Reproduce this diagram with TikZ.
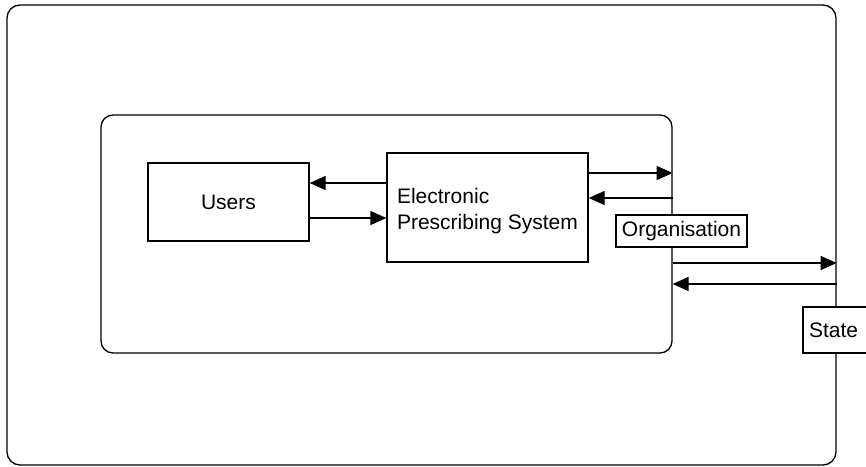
\documentclass[tikz,border=0pt]{standalone}
\usepackage{fontspec}
\setmainfont{Liberation Sans}
\usetikzlibrary{arrows.meta}
\begin{document}
\begin{tikzpicture}[x=1pt,y=-1pt,
  line width=1.3pt,
  every node/.style={font=\fontsize{21}{26}\selectfont, inner sep=0pt},
  frame/.style={draw, rounded corners=13pt},
  box/.style={draw},
  flow/.style={-{Triangle[length=16pt,width=14pt]}}]
\useasboundingbox (0,0) rectangle (866,466);
\clip (0,0) rectangle (866,466);

% context boundaries
\node[frame, minimum width=829pt, minimum height=460pt] (state area) at (421.5,235) {};
\node[frame, rounded corners=12pt, minimum width=571pt, minimum height=238pt] (org area) at (386.5,234) {};

% actors
\node[box, minimum width=161pt, minimum height=78pt] (users) at (228.5,202) {Users};
\node[box, minimum width=201pt, minimum height=109pt] (eps) at (487.5,207.5) {};
\node[align=left] (eps text) at ([yshift=-4pt]eps.center) {Electronic\\Prescribing System};
\node[box, fill=white, minimum width=131pt, minimum height=32pt] (org) at (681.5,231) {Organisation};
\node[box, fill=white, minimum width=73pt, minimum height=46pt, text width=61pt, align=left] (state) at (839.5,330) {\raisebox{-1.5pt}{State}};

% flow levels
\coordinate (l1) at (0,183);
\coordinate (l2) at (0,218);
\coordinate (l3) at (0,173);
\coordinate (l4) at (0,198);
\coordinate (l5) at (0,263);
\coordinate (l6) at (0,284);

\draw[flow] (eps.west |- l1) -- (users.east |- l1);
\draw[flow] (users.east |- l2) -- (eps.west |- l2);
\draw[flow] (eps.east |- l3) -- (org area.east |- l3);
\draw[flow] (org area.east |- l4) -- (eps.east |- l4);
\draw[flow] (org area.east |- l5) -- (state area.east |- l5);
\draw[flow] (state area.east |- l6) -- (org area.east |- l6);
\end{tikzpicture}
\end{document}
